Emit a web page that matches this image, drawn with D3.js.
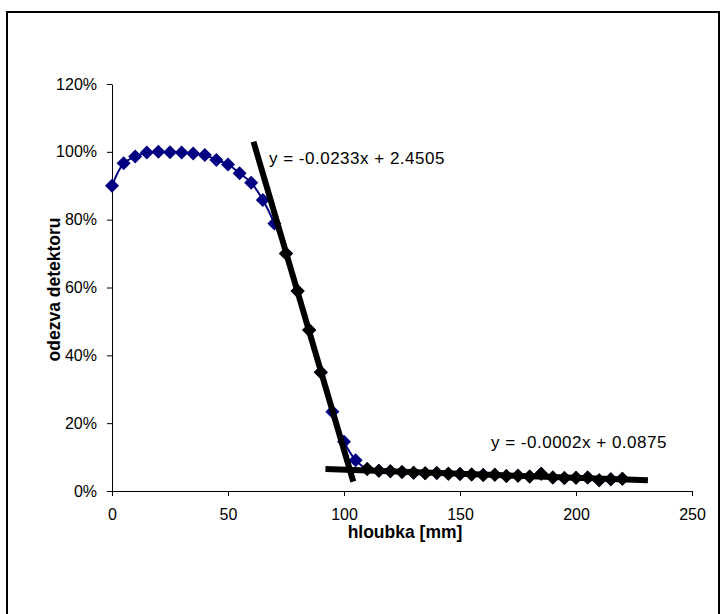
<!DOCTYPE html>
<html>
<head>
<meta charset="utf-8">
<script src="https://cdn.jsdelivr.net/npm/d3@7"></script>
<style>
  body { margin: 0; background: #fff; }
  text { font-family: Arial, 'Liberation Sans', sans-serif; fill: #000; }
</style>
</head>
<body>
<svg id="chart"></svg>
<script>
var depth = [0, 5, 10, 15, 20, 25, 30, 35, 40, 45, 50, 55, 60, 65, 70, 75, 80, 85, 90, 95,
  100, 105, 110, 115, 120, 125, 130, 135, 140, 145, 150, 155, 160, 165, 170, 175, 180,
  185, 190, 195, 200, 205, 210, 215, 220];

var odezva = [0.900, 0.966, 0.986, 0.998, 1.000, 0.999, 0.998, 0.995, 0.991, 0.976, 0.963,
  0.937, 0.909, 0.858, 0.789, 0.700, 0.590, 0.475, 0.350, 0.234, 0.145, 0.091, 0.065,
  0.060, 0.058, 0.056, 0.054, 0.052, 0.053, 0.051, 0.050, 0.049, 0.047, 0.048, 0.044,
  0.045, 0.043, 0.051, 0.040, 0.038, 0.039, 0.040, 0.032, 0.035, 0.036];

// points used for the two linear trendlines
var fitDepth1 = [75, 80, 85, 90];
var fitDepth2 = [110, 115, 120, 125, 130, 135, 140, 145, 150, 155, 160, 165, 170, 175,
  180, 185, 190, 195, 200, 205, 210, 215, 220];

// forecast range of each trendline (mm)
var trend1Range = [61, 104];
var trend2Range = [92, 231];

var eq1Label = 'y = -0.0233x + 2.4505';
var eq2Label = 'y = -0.0002x + 0.0875';

var xTicks = [0, 50, 100, 150, 200, 250];
var yTicks = [0, 0.2, 0.4, 0.6, 0.8, 1.0, 1.2];

var xTitle = 'hloubka [mm]';
var yTitle = 'odezva detektoru';

var width = 722,
  height = 614;

var svg = d3.select('#chart')
  .attr('width', width)
  .attr('height', height);

svg.append('rect')
  .attr('x', 7)
  .attr('y', 12)
  .attr('width', 712)
  .attr('height', 700)
  .attr('fill', '#fff')
  .attr('stroke', '#000')
  .attr('stroke-width', 2);

var x = d3.scaleLinear()
  .domain([0, 250])
  .range([112, 692]);

var y = d3.scaleLinear()
  .domain([0, 1.2])
  .range([491, 84]);

var g = svg.append('g');

// axes
g.append('g')
  .attr('transform', 'translate(0,' + y(0) + ')')
  .call(d3.axisBottom(x)
    .tickValues(xTicks)
    .tickSize(5)
    .tickSizeOuter(0)
    .tickPadding(13))
  .call(function(a) {
    a.select('.domain').attr('stroke', '#000');
    a.selectAll('text')
      .attr('font-size', '16px')
      .attr('font-family', "Arial, 'Liberation Sans', sans-serif");
  });

g.append('g')
  .attr('transform', 'translate(' + x(0) + ',0)')
  .call(d3.axisLeft(y)
    .tickValues(yTicks)
    .tickSize(5)
    .tickSizeOuter(0)
    .tickPadding(10)
    .tickFormat(d3.format('.0%')))
  .call(function(a) {
    a.select('.domain').attr('stroke', '#000');
    a.selectAll('text')
      .attr('font-size', '16px')
      .attr('font-family', "Arial, 'Liberation Sans', sans-serif");
  });

g.append('text')
  .attr('x', (x.range()[0] + x.range()[1]) / 2 + 3)
  .attr('y', 538)
  .attr('text-anchor', 'middle')
  .attr('font-size', '17.5px')
  .attr('font-weight', 'bold')
  .text(xTitle);

g.append('text')
  .attr('transform', 'translate(60,' + ((y(0) + y(1.2)) / 2 + 2) + ') rotate(-90)')
  .attr('text-anchor', 'middle')
  .attr('font-size', '17.5px')
  .attr('font-weight', 'bold')
  .text(yTitle);

var points = depth.map(function(d, i) { return { x: d, y: odezva[i] }; });

function pick(list) {
  return points.filter(function(p) { return list.indexOf(p.x) >= 0; });
}

var fit1 = pick(fitDepth1);
var fit2 = pick(fitDepth2);

var diamond = 'M0,-7L7,0L0,7L-7,0Z';

// measured series, smoothed line
var line = d3.line()
  .x(function(d) { return x(d.x); })
  .y(function(d) { return y(d.y); })
  .curve(d3.curveCatmullRom.alpha(0.5));

g.append('path')
  .datum(points)
  .attr('fill', 'none')
  .attr('stroke', '#000080')
  .attr('stroke-width', 2)
  .attr('d', line);

g.append('g')
  .selectAll('path')
  .data(points)
  .enter().append('path')
  .attr('transform', function(d) { return 'translate(' + x(d.x) + ',' + y(d.y) + ')'; })
  .attr('d', diamond)
  .attr('fill', '#000080');

// points of the fits
g.append('g')
  .selectAll('path')
  .data(fit1.concat(fit2))
  .enter().append('path')
  .attr('transform', function(d) { return 'translate(' + x(d.x) + ',' + y(d.y) + ')'; })
  .attr('d', diamond)
  .attr('fill', '#000');

function regression(pts) {
  var mx = d3.mean(pts, function(d) { return d.x; });
  var my = d3.mean(pts, function(d) { return d.y; });
  var sxy = d3.sum(pts, function(d) { return (d.x - mx) * (d.y - my); });
  var sxx = d3.sum(pts, function(d) { return (d.x - mx) * (d.x - mx); });
  var k = sxy / sxx;
  return function(v) { return my + k * (v - mx); };
}

function drawTrend(pts, range) {
  var f = regression(pts);
  g.append('line')
    .attr('x1', x(range[0]))
    .attr('y1', y(f(range[0])))
    .attr('x2', x(range[1]))
    .attr('y2', y(f(range[1])))
    .attr('stroke', '#000')
    .attr('stroke-width', 6);
}

drawTrend(fit1, trend1Range);
drawTrend(fit2, trend2Range);

g.append('text')
  .attr('x', 269)
  .attr('y', 164)
  .attr('font-size', '17px')
  .attr('letter-spacing', '0.5px')
  .text(eq1Label);

g.append('text')
  .attr('x', 491)
  .attr('y', 448)
  .attr('font-size', '17px')
  .attr('letter-spacing', '0.5px')
  .text(eq2Label);
</script>
</body>
</html>
